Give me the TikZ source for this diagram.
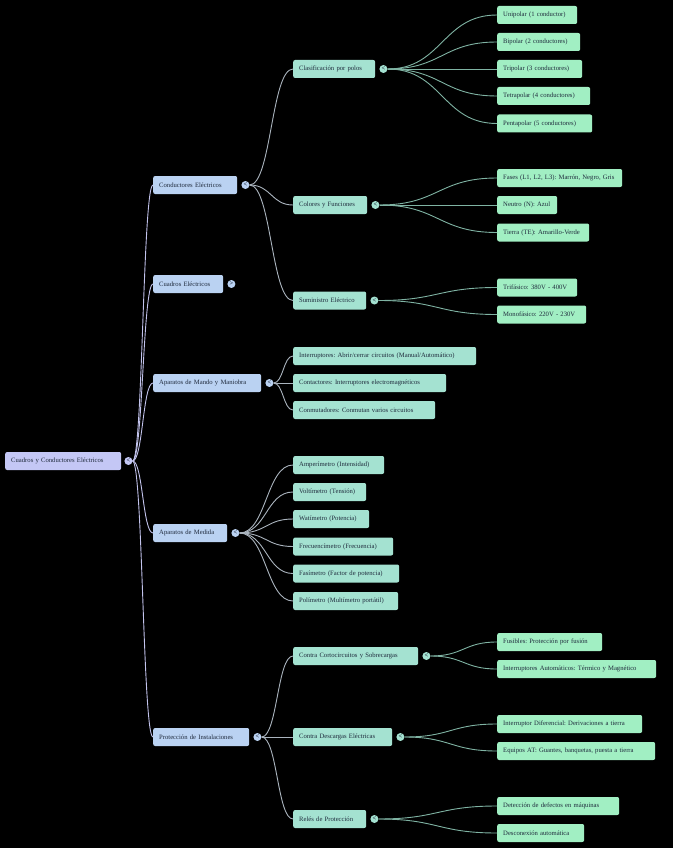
\documentclass[tikz,border=0pt]{standalone}
\usepackage{fontspec}
\setmainfont{Liberation Serif}
\usetikzlibrary{calc}
\definecolor{ink}{HTML}{1F2A3C}
\definecolor{rootfill}{HTML}{C4C7F5}
\definecolor{onefill}{HTML}{BAD2F2}
\definecolor{twofill}{HTML}{A4E2D1}
\definecolor{threefill}{HTML}{A1EFC3}
\definecolor{edgeroot}{HTML}{C2C3EC}
\definecolor{edgeone}{HTML}{AAB4BE}
\definecolor{edgetwo}{HTML}{7FB3A3}
\frenchspacing
\begin{document}
\begin{tikzpicture}[x=1pt, y=-1pt,
    box/.style={anchor=west, minimum height=18pt, inner xsep=6pt, inner ysep=0pt, rounded corners=2pt,
      text width=#1, align=left, font=\fontsize{6.65}{8}\selectfont, text=ink,
      execute at begin node={\hbox\bgroup}, execute at end node={\egroup}},
    lroot/.style={box=#1, fill=rootfill},
    lone/.style={box=#1, fill=onefill},
    ltwo/.style={box=#1, fill=twofill},
    lthree/.style={box=#1, fill=threefill},
    tgl/.style={circle, inner sep=0pt, minimum size=8pt, font=\fontsize{6.5}{6.5}\selectfont\bfseries, text=ink},
    curvy/.style={to path={let \p1=(\tikztostart), \p2=(\tikztotarget) in
      .. controls ({0.5*\x1+0.5*\x2},\y1) and ({0.5*\x1+0.5*\x2},\y2) .. (\tikztotarget)}},
    eroot/.style={curvy, draw=edgeroot, line width=0.9pt},
    eone/.style={curvy, draw=edgeone, line width=0.9pt},
    etwo/.style={curvy, draw=edgetwo, line width=0.9pt}]
  \fill[black] (0,0) rectangle (673,848);
  \useasboundingbox (0,0) rectangle (673,848);

  % root
  \node[lroot=104pt] (root) at (5,461) {Cuadros y Conductores Eléctricos};
  \node[tgl, fill=rootfill] (root-t) at ([xshift=7pt]root.east) {<};

  % first level
  \node[lone=72pt] (cond) at (153,185) {Conductores Eléctricos};
  \node[lone=58pt] (cuad) at (153,284) {Cuadros Eléctricos};
  \node[lone=96pt] (mando) at (153,383) {Aparatos de Mando y Maniobra};
  \node[lone=62pt] (medida) at (153,533) {Aparatos de Medida};
  \node[lone=84pt] (prot) at (153,737) {Protección de Instalaciones};
  \foreach \n in {cond,mando,medida,prot}
    \node[tgl, fill=onefill] (\n-t) at ([xshift=8pt]\n.east) {<};
  \node[tgl, fill=onefill] (cuad-t) at ([xshift=8pt]cuad.east) {>};

  % second level
  \node[ltwo=70pt] (clas) at (293,69) {Clasificación por polos};
  \node[ltwo=62pt] (color) at (293,205) {Colores y Funciones};
  \node[ltwo=61pt] (sumi) at (293,300.5) {Suministro Eléctrico};
  \node[ltwo=171pt] (inter) at (293,356) {Interruptores: Abrir/cerrar circuitos (Manual/Automático)};
  \node[ltwo=141pt] (contac) at (293,383) {Contactores: Interruptores electromagnéticos};
  \node[ltwo=130pt] (conmu) at (293,410) {Conmutadores: Conmutan varios circuitos};
  \node[ltwo=79pt] (amper) at (293,465) {Amperímetro (Intensidad)};
  \node[ltwo=61pt] (volt) at (293,492) {Voltímetro (Tensión)};
  \node[ltwo=64pt] (wat) at (293,519) {Watímetro (Potencia)};
  \node[ltwo=88pt] (frec) at (293,546.5) {Frecuencímetro (Frecuencia)};
  \node[ltwo=94pt] (fasi) at (293,573.5) {Fasímetro (Factor de potencia)};
  \node[ltwo=93pt] (poli) at (293,601) {Polímetro (Multímetro portátil)};
  \node[ltwo=113pt] (corto) at (293,656) {Contra Cortocircuitos y Sobrecargas};
  \node[ltwo=87pt] (desc) at (293,737) {Contra Descargas Eléctricas};
  \node[ltwo=61pt] (rele) at (293,819) {Relés de Protección};
  \foreach \n in {clas,color,sumi,corto,desc,rele}
    \node[tgl, fill=twofill] (\n-t) at ([xshift=8pt]\n.east) {<};

  % third level
  \node[lthree=68pt] (unip) at (497,15) {Unipolar (1 conductor)};
  \node[lthree=71pt] (bip) at (497,42) {Bipolar (2 conductores)};
  \node[lthree=73pt] (trip) at (497,69) {Tripolar (3 conductores)};
  \node[lthree=81pt] (tetra) at (497,96) {Tetrapolar (4 conductores)};
  \node[lthree=83pt] (penta) at (497,123.5) {Pentapolar (5 conductores)};
  \node[lthree=113pt] (fases) at (497,178) {Fases (L1, L2, L3): Marrón, Negro, Gris};
  \node[lthree=48pt] (neutro) at (497,205) {Neutro (N): Azul};
  \node[lthree=80pt] (tierra) at (497,232.5) {Tierra (TE): Amarillo-Verde};
  \node[lthree=68pt] (trif) at (497,287.5) {Trifásico: 380V - 400V};
  \node[lthree=77pt] (monof) at (497,314.5) {Monofásico: 220V - 230V};
  \node[lthree=93pt] (fusib) at (497,642) {Fusibles: Protección por fusión};
  \node[lthree=147pt] (intauto) at (497,669) {Interruptores Automáticos: Térmico y Magnético};
  \node[lthree=133pt] (intdif) at (497,724) {Interruptor Diferencial: Derivaciones a tierra};
  \node[lthree=146pt] (equipos) at (497,751) {Equipos AT: Guantes, banquetas, puesta a tierra};
  \node[lthree=110pt] (detec) at (497,806) {Detección de defectos en máquinas};
  \node[lthree=75pt] (descon) at (497,833) {Desconexión automática};

  % connectors
  \foreach \c in {cond,cuad,mando,medida,prot}
    \draw[eroot] (root-t.east) to (\c.west);
  \foreach \p/\c in {cond/clas,cond/color,cond/sumi,mando/inter,mando/contac,mando/conmu,
      medida/amper,medida/volt,medida/wat,medida/frec,medida/fasi,medida/poli,
      prot/corto,prot/desc,prot/rele}
    \draw[eone] (\p-t.east) to (\c.west);
  \foreach \p/\c in {clas/unip,clas/bip,clas/trip,clas/tetra,clas/penta,color/fases,color/neutro,
      color/tierra,sumi/trif,sumi/monof,corto/fusib,corto/intauto,desc/intdif,desc/equipos,
      rele/detec,rele/descon}
    \draw[etwo] (\p-t.east) to (\c.west);
\end{tikzpicture}
\end{document}
